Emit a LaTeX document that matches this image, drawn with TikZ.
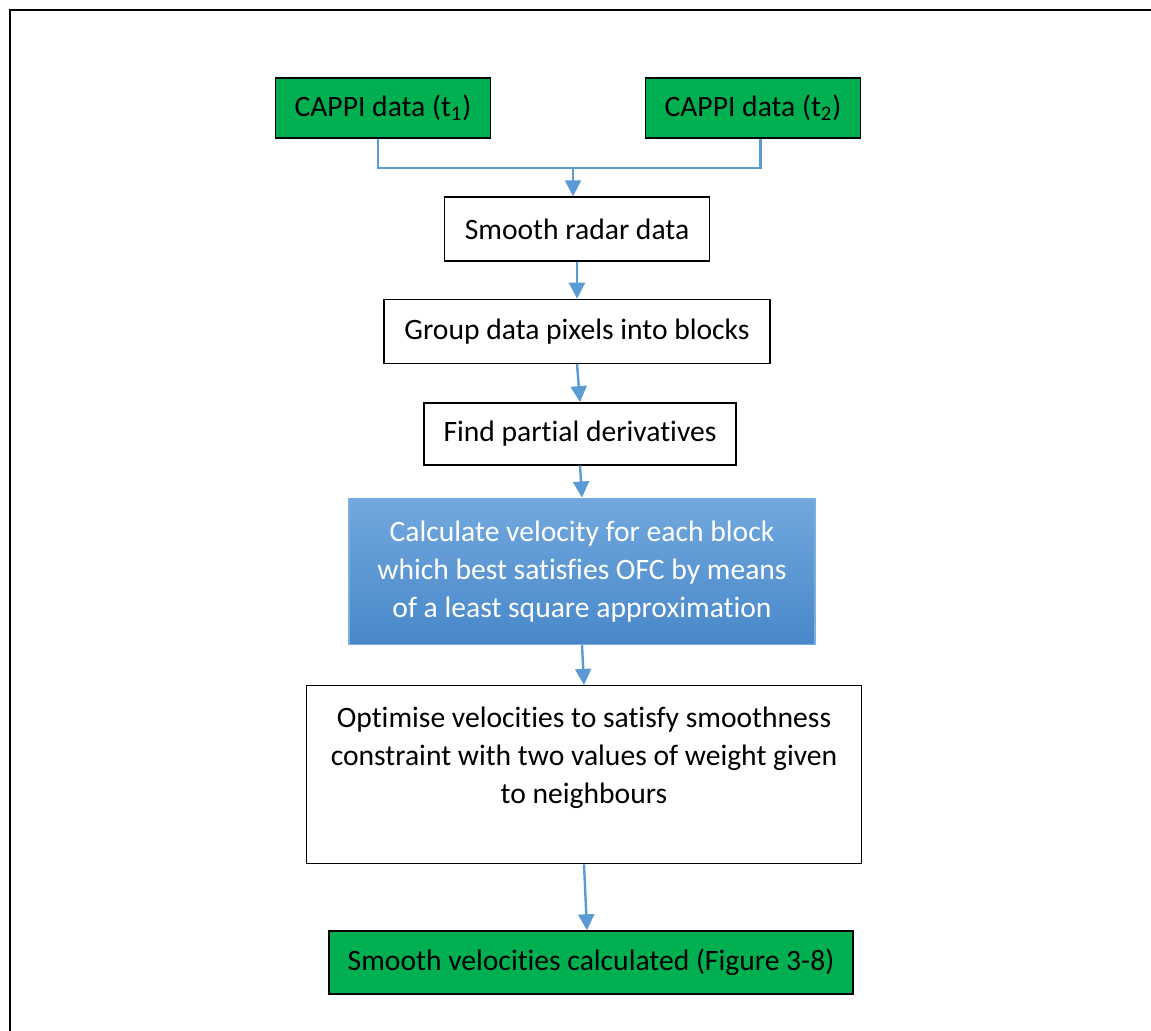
\documentclass[tikz,border=0pt]{standalone}
\usepackage{fontspec}
\setmainfont{Carlito}[Ligatures=NoCommon]
\usetikzlibrary{positioning,arrows.meta}
\definecolor{datagreen}{HTML}{00B050}
\definecolor{flowblue}{HTML}{5B9BD5}
\definecolor{calctop}{HTML}{72A8DE}
\definecolor{calcbottom}{HTML}{4888C9}

\begin{document}
\begin{tikzpicture}[
    x=0.5pt, y=-0.5pt,
    every node/.style={font=\fontsize{14.8pt}{19pt}\selectfont},
    stepbox/.style={rectangle, draw=black, line width=0.7pt, fill=white,
                    inner sep=0pt, align=center, text=black},
    databox/.style={stepbox, fill=datagreen},
    calcbox/.style={stepbox, draw=flowblue!80, top color=calctop,
                    bottom color=calcbottom, text=white},
    arrow/.style={-{Triangle[length=8pt, width=8pt]}, line width=1.2pt, color=flowblue},
    link/.style={line width=1.2pt, color=flowblue},
    frame/.style={line width=1.2pt, draw=black},
]

% Page frame
\clip (0,0) rectangle (1151,1030);
\draw[frame] (10,10) rectangle (1200,1080);

% Input data
\node[databox, minimum width=107.5pt, minimum height=30pt] (cappi1) at (383,108) {CAPPI data (t\textsubscript{1})};
\node[databox, minimum width=107.5pt, minimum height=30pt] (cappi2) at (753,108) {CAPPI data (t\textsubscript{2})};

% Processing steps
\node[stepbox, minimum width=132.5pt, minimum height=32pt] (smooth) at (577,229) {Smooth radar data};
\node[stepbox, minimum width=193pt, minimum height=32pt, below=18.5pt of smooth] (group) {Group data pixels into blocks};
\node[stepbox, minimum width=156pt, minimum height=31pt, below=19pt of group, xshift=1.5pt] (deriv) {Find partial derivatives};
\node[calcbox, minimum width=233pt, minimum height=73pt, below=16pt of deriv, xshift=1pt] (calc)
    {Calculate velocity for each block\\which best satisfies OFC by means\\of a least square approximation};
\node[stepbox, minimum width=277.5pt, minimum height=89pt, text depth=19pt, below=20pt of calc, xshift=1pt] (optim)
    {Optimise velocities to satisfy smoothness\\constraint with two values of weight given\\to neighbours};

% Result
\node[databox, minimum width=262pt, minimum height=31.5pt, below=33pt of optim, xshift=3.5pt] (result) {Smooth velocities calculated (Figure 3-8)};

% Connectors
\coordinate (join) at (573,168);
\draw[link] ([xshift=-2.5pt]cappi1.south) |- (join) -| ([xshift=3.75pt]cappi2.south);
\draw[arrow] (join) -- (join |- smooth.north);
\draw[arrow] (smooth.south) -- (group.north);
\draw[arrow] (group.south) -- (deriv.north);
\draw[arrow] (deriv.south) -- (calc.north);
\draw[arrow] (calc.south) -- (optim.north);
\draw[arrow] (optim.south) -- ([xshift=-2pt]result.north);

\end{tikzpicture}
\end{document}
